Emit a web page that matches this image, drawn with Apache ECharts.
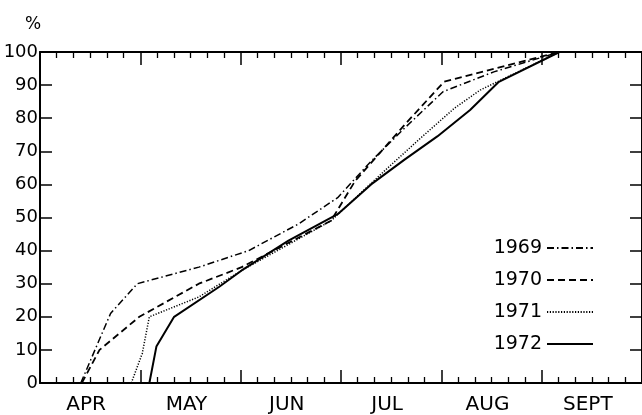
<!DOCTYPE html>
<html>
<head>
<meta charset="utf-8">
<script src="https://cdn.jsdelivr.net/npm/echarts@6/dist/echarts.min.js"></script>
<style>
html,body{margin:0;padding:0;background:#fff;overflow:hidden;}
#chart{width:642px;height:415px;}
</style>
</head>
<body>
<div id="chart"></div>
<script>
// x values: days after 1 April, each month drawn 30 days wide
var months = ['APR', 'MAY', 'JUN', 'JUL', 'AUG', 'SEPT'];
var yTicks = [0, 10, 20, 30, 40, 50, 60, 70, 80, 90, 100];
var years = ['1969', '1970', '1971', '1972'];

var s1969 = [[12.2,0],[21.1,21],[29.1,30],[47.5,35],[62.4,40],[77.2,48],[89,56],[99,67],[109,77],[120.5,88],[135.7,94],[155.3,100]];
var s1970 = [[12.5,0],[17.8,10],[29.7,20],[47.5,30],[60.3,35],[87,49],[94.2,61],[109,78],[120.8,91],[155.3,100]];
var s1971 = [[27.3,0],[30.6,9],[32.7,20],[47.5,26],[60.3,34],[87,49],[89.1,51],[104,65],[113.8,74],[123.9,83],[131.6,88.5],[155.3,100]];
var s1972 = [[32.7,0],[34.8,11],[40.1,20],[53.5,29],[60.3,34],[74.3,43],[89,51],[99,60],[109,67.5],[118.8,74.5],[128.6,82.5],[137.2,91],[155.3,100]];

var seriesData = [s1969, s1970, s1971, s1972];
var dashTypes = [[7,3,1.5,3],[7,4],[1.2,1.6],'solid'];
var widths = [1.5,1.8,1.5,2];

var FONT = 'DejaVu Sans';
var chart = echarts.init(document.getElementById('chart'), null, {renderer:'canvas'});

var valueX = function(pos){
  return {
    type:'value', position:pos, min:0, max:180, interval:30,
    axisLine:{show:true, onZero:false, lineStyle:{color:'#000', width:2}},
    axisTick:{show:true, inside:true, length:13, lineStyle:{color:'#000', width:1.5}},
    minorTick:{show:true, splitNumber:6, length:6, lineStyle:{color:'#000', width:1.3}},
    axisLabel:{show:false}, splitLine:{show:false}
  };
};

var option = {
  backgroundColor:'#fff',
  animation:false,
  title:{text:'%', left:20, top:11, textStyle:{fontFamily:FONT, fontSize:17, fontWeight:'normal', color:'#000'}},
  grid:{left:40, top:52, right:-4, bottom:31, containLabel:false},
  legend:{
    orient:'vertical', align:'right', right:43, top:233,
    itemWidth:46, itemHeight:20, itemGap:12,
    data:years,
    itemStyle:{opacity:0},
    textStyle:{fontFamily:FONT, fontSize:19, color:'#000', lineHeight:20}
  },
  xAxis:[
    valueX('bottom'),
    valueX('top'),
    {
      type:'category', position:'bottom', data:months, boundaryGap:true,
      axisLine:{show:false}, axisTick:{show:false}, splitLine:{show:false},
      axisLabel:{show:true, margin:12, fontFamily:FONT, fontSize:20, color:'#000', padding:[0,8,0,0]}
    }
  ],
  yAxis:[
    {
      type:'value', position:'left', min:0, max:100, interval:10,
      axisLine:{show:true, onZero:false, lineStyle:{color:'#000', width:2}},
      axisTick:{show:true, inside:true, length:12, lineStyle:{color:'#000', width:1.5}},
      axisLabel:{show:true, margin:2, fontFamily:FONT, fontSize:18, color:'#000',
        formatter:function(v){ return yTicks.indexOf(v) >= 0 ? String(v) : ''; }},
      splitLine:{show:false}
    },
    {
      type:'value', position:'right', min:0, max:100, interval:10,
      axisLine:{show:true, onZero:false, lineStyle:{color:'#000', width:2}},
      axisTick:{show:true, inside:true, length:12, lineStyle:{color:'#000', width:1.5}},
      axisLabel:{show:false}, splitLine:{show:false}
    }
  ],
  series: years.map(function(y, i){
    return {
      name:y, type:'line', xAxisIndex:0, yAxisIndex:0,
      data:seriesData[i], symbol:'none', showSymbol:false, smooth:false,
      itemStyle:{color:'rgba(0,0,0,0)'},
      lineStyle:{color:'#000', width:widths[i], type:dashTypes[i]},
      emphasis:{disabled:true}
    };
  })
};
chart.setOption(option);
</script>
</body>
</html>
